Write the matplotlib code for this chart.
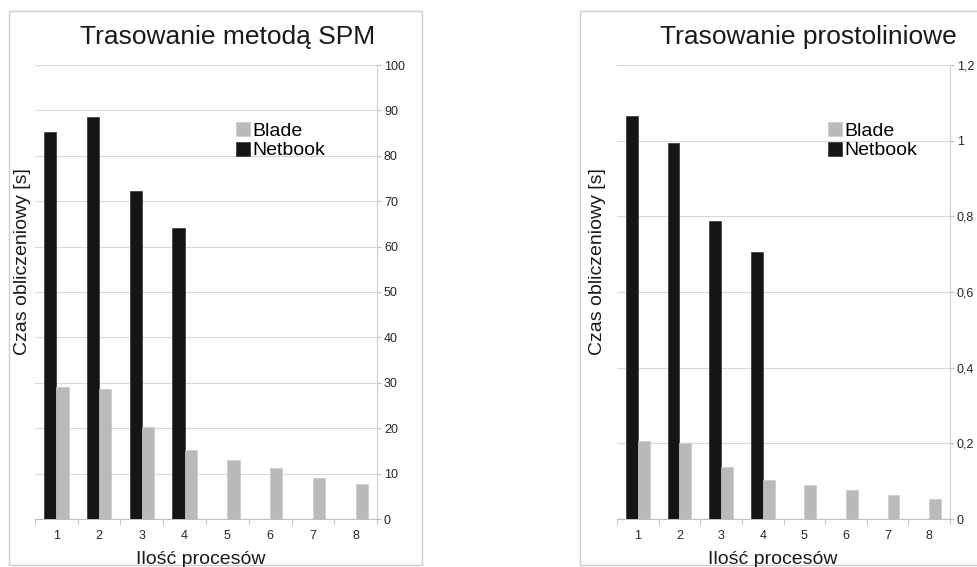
import numpy as np
import matplotlib
matplotlib.use("Agg")
import matplotlib.pyplot as plt
from matplotlib.patches import Rectangle
from matplotlib.ticker import FuncFormatter, MultipleLocator

plt.rcParams["font.family"] = ["Liberation Sans", "DejaVu Sans"]

processes = [1, 2, 3, 4, 5, 6, 7, 8]
spm_netbook = [85.3, 88.6, 72.3, 64.2, np.nan, np.nan, np.nan, np.nan]
spm_blade = [29.0, 28.7, 20.2, 15.1, 12.9, 11.2, 9.0, 7.6]
line_netbook = [1.065, 0.993, 0.788, 0.706, np.nan, np.nan, np.nan, np.nan]
line_blade = [0.205, 0.202, 0.138, 0.102, 0.089, 0.076, 0.063, 0.053]

W, H = 977, 567
fig = plt.figure(figsize=(W / 100, H / 100), dpi=100)

c_blade = "#bababa"
c_net = "#151515"
c_grid = "#d9d9d9"
c_text = "#262626"


def px_axes(x0, y0, x1, y1):
    return fig.add_axes([x0 / W, 1 - y1 / H, (x1 - x0) / W, (y1 - y0) / H])


def frame(x0, y0, x1, y1):
    fig.patches.append(Rectangle((x0 / W, 1 - y1 / H), (x1 - x0) / W, (y1 - y0) / H,
                                 transform=fig.transFigure, fill=False,
                                 edgecolor="#cfcfcf", lw=1.0))


def draw(ax, netbook, blade, ymax, ystep, title, fmt, title_x, cx):
    x = np.arange(len(processes))
    w = 1 / 3.5
    ax.bar(x - w / 2, netbook, w, color=c_net, edgecolor="#333333", lw=0.5, zorder=3, label="Netbook")
    ax.bar(x + w / 2, blade, w, color=c_blade, edgecolor="#c8c8c8", lw=0.5, zorder=3, label="Blade")
    ax.set_xlim(-0.5, len(processes) - 0.5)
    ax.set_ylim(0, ymax)
    ax.yaxis.set_major_locator(MultipleLocator(ystep))
    ax.yaxis.set_major_formatter(FuncFormatter(fmt))
    ax.yaxis.tick_right()
    ax.tick_params(axis="y", direction="out", length=3, color="#bfbfbf", labelsize=9,
                   labelcolor=c_text, pad=2)
    ax.set_xticks(x)
    ax.set_xticklabels([str(p) for p in processes])
    ax.set_xticks(np.arange(len(processes) + 1) - 0.5, minor=True)
    ax.tick_params(axis="x", which="major", length=0, labelsize=9, labelcolor=c_text, pad=8)
    ax.tick_params(axis="x", which="minor", length=4, color="#bfbfbf")
    ax.grid(axis="y", color=c_grid, lw=0.8, zorder=0)
    ax.set_axisbelow(True)
    for s in ["left", "top"]:
        ax.spines[s].set_visible(False)
    ax.spines["right"].set_color("#cccccc")
    ax.spines["bottom"].set_color("#bfbfbf")
    ax.set_facecolor("none")
    fig.text(title_x / W, 1 - 37 / H, title, ha="center", va="center", fontsize=19, color="#1a1a1a")
    fig.text(cx / W, 1 - 560 / H, "Ilość procesów", ha="center", va="center", fontsize=14, color="#1a1a1a")


ax1 = px_axes(35, 65, 377, 519)
draw(ax1, spm_netbook, spm_blade, 100, 10, "Trasowanie metodą SPM",
     lambda v, p: "{:g}".format(v), 228, 201)
ax2 = px_axes(617, 65, 950, 519)
draw(ax2, line_netbook, line_blade, 1.2, 0.2, "Trasowanie prostoliniowe",
     lambda v, p: "{:g}".format(round(v, 2)).replace(".", ","), 808, 773)

fig.text(23 / W, 1 - 262 / H, "Czas obliczeniowy [s]", rotation=90, ha="center", va="center",
         fontsize=14, color="#1a1a1a")
fig.text(597 / W, 1 - 262 / H, "Czas obliczeniowy [s]", rotation=90, ha="center", va="center",
         fontsize=14, color="#1a1a1a")

for ax, lx in [(ax1, 236), (ax2, 828)]:
    h, l = ax.get_legend_handles_labels()
    fig.legend(h[::-1], l[::-1], loc="upper left", bbox_to_anchor=(lx / W, 1 - 122 / H),
               frameon=False, fontsize=14, handlelength=0.72, handleheight=0.72,
               handletextpad=0.12, labelspacing=0.1, borderpad=0, borderaxespad=0)

frame(9, 11, 422, 565)
frame(580, 11, 990, 565)

fig.savefig("out.png", dpi=100)
